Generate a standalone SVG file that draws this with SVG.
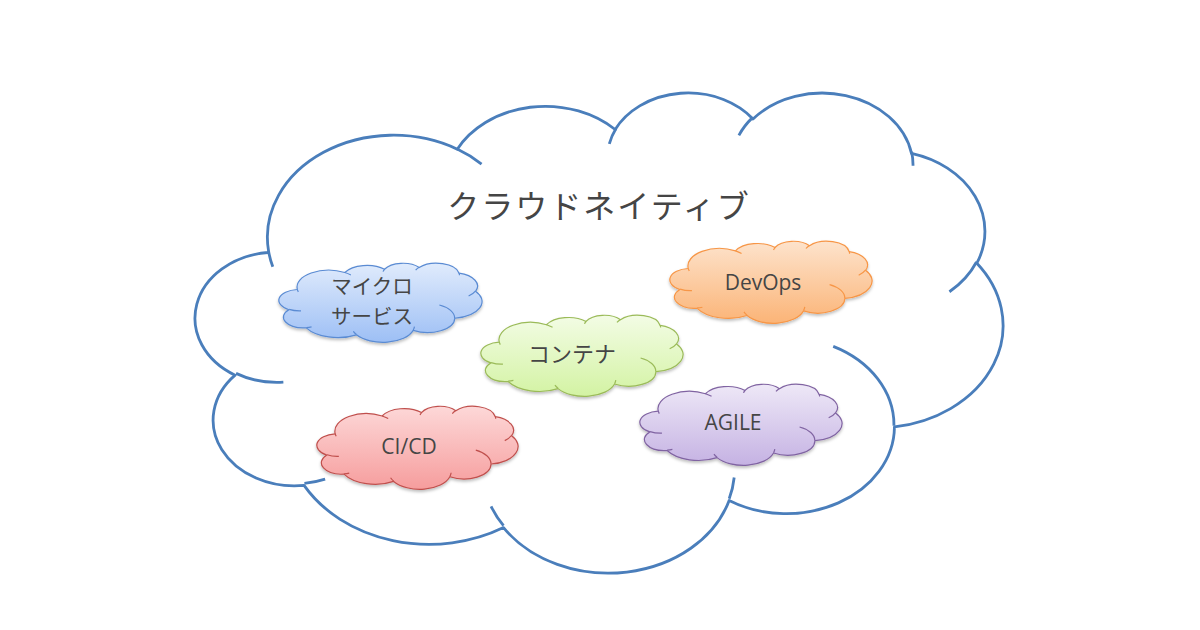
<svg xmlns="http://www.w3.org/2000/svg" xmlns:xlink="http://www.w3.org/1999/xlink" width="1200" height="630" viewBox="0 0 1200 630">
<style>
.shape{vector-effect:non-scaling-stroke;stroke-linejoin:round;stroke-linecap:butt}
.big{fill:none;stroke:#4a7ebb;stroke-width:2.8}
.small{stroke-width:1.2}
.jp{font-family:"Noto Sans CJK JP","Noto Sans",sans-serif;fill:#454545;text-anchor:middle}
.en{font-family:"Open Sans","Noto Sans",sans-serif;fill:#454545;text-anchor:middle}
</style>
<defs>
<path id="cloud" class="shape" d="M3900,14370 A6753,9190 0 0 1 14004,5201 A5333,7267 0 0 1 22457,3432 A4365,5945 0 0 1 29834,2481 A4857,6595 0 0 1 38319,5578 A5333,7273 0 0 1 41819,15462 A6775,9220 0 0 1 37406,30205 A5785,7867 0 0 1 28557,36815 A6752,9215 0 0 1 16478,39260 A7720,10543 0 0 1 5801,35465 A4360,5918 0 0 1 2110,25542 A4345,5945 0 0 1 3860,14499 Z"/>
<path id="inner" class="shape" fill="none" d="M4693,26177 A4345,5945 0 0 1 2159,25380 M6928,34899 A4360,5918 0 0 1 5819,35281 M16478,39090 A6752,9215 0 0 1 15813,37355 M28827,34751 A6752,9215 0 0 1 28560,36660 M34129,22954 A5785,7867 0 0 1 37380,30090 M41798,15354 A5333,7273 0 0 1 40349,18031 M38324,5426 A4857,6595 0 0 1 38400,6690 M29078,3952 A4857,6595 0 0 1 29821,2338 M22141,4720 A4365,5945 0 0 1 22500,3330 M14000,5192 A6753,9190 0 0 1 15303,6544 M4127,15789 A6753,9190 0 0 1 3900,14370"/>
<linearGradient id="gBlue" x1="0" y1="0" x2="0" y2="1"><stop offset="0" stop-color="#e0ebfc"/><stop offset="1" stop-color="#9dbff5"/></linearGradient>
<linearGradient id="gGreen" x1="0" y1="0" x2="0" y2="1"><stop offset="0" stop-color="#f3fce5"/><stop offset="1" stop-color="#d3f3a3"/></linearGradient>
<linearGradient id="gOrange" x1="0" y1="0" x2="0" y2="1"><stop offset="0" stop-color="#fde3cc"/><stop offset="1" stop-color="#fbb477"/></linearGradient>
<linearGradient id="gPurple" x1="0" y1="0" x2="0" y2="1"><stop offset="0" stop-color="#eee8f7"/><stop offset="1" stop-color="#c5b2e3"/></linearGradient>
<linearGradient id="gRed" x1="0" y1="0" x2="0" y2="1"><stop offset="0" stop-color="#fdd8d8"/><stop offset="1" stop-color="#f69d9d"/></linearGradient>
<filter id="sh" x="-10%" y="-10%" width="120%" height="130%"><feDropShadow dx="0" dy="2" stdDeviation="1.5" flood-color="#000" flood-opacity="0.25"/></filter>
</defs>
<rect width="1200" height="630" fill="#ffffff"/>

<g id="cloud-native">
<g transform="translate(195.7,91.4) scale(0.01868,0.01111)">
<use href="#cloud" class="big"/>
<use href="#inner" class="big"/>
</g>
<text class="jp" x="599" y="218" font-size="32" letter-spacing="2">クラウドネイティブ</text>
</g>

<g id="microservice">
<g filter="url(#sh)">
<g transform="translate(279,263) scale(0.004699,0.001829)">
<use href="#cloud" class="small" fill="url(#gBlue)" stroke="#5a8bd3"/>
<use href="#inner" class="small" stroke="#5a8bd3"/>
</g>
</g>
<text class="jp" x="372" y="294" font-size="20.5">マイクロ</text>
<text class="jp" x="372" y="324" font-size="20.5">サービス</text>
</g>

<g id="container">
<g filter="url(#sh)">
<g transform="translate(481,315) scale(0.004676,0.001875)">
<use href="#cloud" class="small" fill="url(#gGreen)" stroke="#9bbb59"/>
<use href="#inner" class="small" stroke="#9bbb59"/>
</g>
</g>
<text class="jp" x="572" y="362" font-size="22">コンテナ</text>
</g>

<g id="devops">
<g filter="url(#sh)">
<g transform="translate(670,241) scale(0.004676,0.001898)">
<use href="#cloud" class="small" fill="url(#gOrange)" stroke="#f79646"/>
<use href="#inner" class="small" stroke="#f79646"/>
</g>
</g>
<text class="en" x="763" y="290" font-size="21">DevOps</text>
</g>

<g id="agile">
<g filter="url(#sh)">
<g transform="translate(640,384) scale(0.004676,0.001875)">
<use href="#cloud" class="small" fill="url(#gPurple)" stroke="#8064a2"/>
<use href="#inner" class="small" stroke="#8064a2"/>
</g>
</g>
<text class="en" x="733" y="430" font-size="21">AGILE</text>
</g>

<g id="cicd">
<g filter="url(#sh)">
<g transform="translate(317,406) scale(0.004653,0.001921)">
<use href="#cloud" class="small" fill="url(#gRed)" stroke="#c0504d"/>
<use href="#inner" class="small" stroke="#c0504d"/>
</g>
</g>
<text class="en" x="409" y="454" font-size="21">CI/CD</text>
</g>
</svg>
